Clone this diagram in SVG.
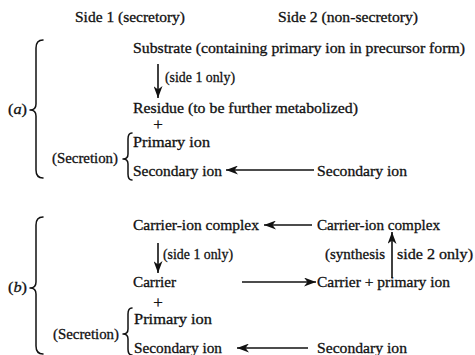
<svg xmlns="http://www.w3.org/2000/svg" width="475" height="355" viewBox="0 0 475 355">
<defs>
<style>
text{font-family:"Liberation Serif","Times New Roman",serif;font-size:15px;fill:#111;stroke:#111;stroke-width:0.3}
.plus{font-size:17px;text-anchor:middle}
.ln{stroke:#111;stroke-width:1.6;fill:none}
.br{stroke:#111;stroke-width:1.5;fill:none;stroke-linecap:round;stroke-linejoin:round}
</style>
<marker id="ah" markerUnits="userSpaceOnUse" markerWidth="13" markerHeight="9" refX="12" refY="4.5" orient="auto">
<path d="M0,0 L12,4.5 L0,9 L3.5,4.5 Z" fill="#111"/>
</marker>
</defs>
<rect width="475" height="355" fill="#fff"/>
<g id="headers">
<text x="75" y="22" textLength="110" lengthAdjust="spacingAndGlyphs">Side 1 (secretory)</text>
<text x="278" y="22" textLength="140" lengthAdjust="spacingAndGlyphs">Side 2 (non-secretory)</text>
</g>
<g id="a-label">
<text x="8" y="114" textLength="19" lengthAdjust="spacingAndGlyphs">(<tspan font-style="italic">a</tspan>)</text>
<path class="br" d="M43,40 Q36,40 36,48 L36,104 Q36,110 30,110 Q36,110 36,116 L36,170 Q36,178 43,178"/>
</g>
<g id="a-substrate"><text x="133" y="53" textLength="332" lengthAdjust="spacingAndGlyphs">Substrate (containing primary ion in precursor form)</text></g>
<g id="a-side1"><text x="165" y="82" textLength="70" lengthAdjust="spacingAndGlyphs">(side 1 only)</text></g>
<g id="a-residue"><text x="133" y="113" textLength="225" lengthAdjust="spacingAndGlyphs">Residue (to be further metabolized)</text></g>
<g id="a-plus"><text class="plus" x="158" y="130">+</text></g>
<g id="a-secretion">
<text x="52" y="163" textLength="66" lengthAdjust="spacingAndGlyphs">(Secretion)</text>
<path class="br" d="M132,133 Q128,133 128,139 L128,154 Q128,159 123,159 Q128,159 128,164 L128,174 Q128,180 132,180"/>
</g>
<g id="a-primary"><text x="133" y="147" textLength="77" lengthAdjust="spacingAndGlyphs">Primary ion</text></g>
<g id="a-secondary1"><text x="133" y="176" textLength="89" lengthAdjust="spacingAndGlyphs">Secondary ion</text></g>
<g id="a-secondary2"><text x="317" y="176" textLength="90" lengthAdjust="spacingAndGlyphs">Secondary ion</text></g>

<g id="b-label">
<text x="8" y="292" textLength="19" lengthAdjust="spacingAndGlyphs">(<tspan font-style="italic">b</tspan>)</text>
<path class="br" d="M43,217 Q36,217 36,225 L36,282 Q36,288 30,288 Q36,288 36,294 L36,346 Q36,354 43,354"/>
</g>
<g id="b-complex1"><text x="133" y="230" textLength="126" lengthAdjust="spacingAndGlyphs">Carrier-ion complex</text></g>
<g id="b-complex2"><text x="317" y="230" textLength="123" lengthAdjust="spacingAndGlyphs">Carrier-ion complex</text></g>
<g id="b-side1"><text x="163" y="259" textLength="70" lengthAdjust="spacingAndGlyphs">(side 1 only)</text></g>
<g id="b-synth">
<text x="325" y="259" textLength="60" lengthAdjust="spacingAndGlyphs">(synthesis</text>
<text x="397" y="259" textLength="76" lengthAdjust="spacingAndGlyphs">side 2 only)</text>
</g>
<g id="b-carrier"><text x="133" y="287" textLength="43" lengthAdjust="spacingAndGlyphs">Carrier</text></g>
<g id="b-carrierprimary"><text x="317" y="287" textLength="133" lengthAdjust="spacingAndGlyphs">Carrier + primary ion</text></g>
<g id="b-plus"><text class="plus" x="158" y="308">+</text></g>
<g id="b-secretion">
<text x="53" y="339" textLength="66" lengthAdjust="spacingAndGlyphs">(Secretion)</text>
<path class="br" d="M132,308 Q128,308 128,314 L128,329 Q128,334 123,334 Q128,334 128,339 L128,349 Q128,355 132,355"/>
</g>
<g id="b-primary"><text x="134" y="324" textLength="78" lengthAdjust="spacingAndGlyphs">Primary ion</text></g>
<g id="b-secondary1"><text x="134" y="353" textLength="88" lengthAdjust="spacingAndGlyphs">Secondary ion</text></g>
<g id="b-secondary2"><text x="317" y="353" textLength="90" lengthAdjust="spacingAndGlyphs">Secondary ion</text></g>

<g id="connectors">
<line class="ln" x1="158" y1="64" x2="158" y2="98" marker-end="url(#ah)"/>
<line class="ln" x1="314" y1="170" x2="226" y2="170" marker-end="url(#ah)"/>
<line class="ln" x1="312" y1="225" x2="264" y2="225" marker-end="url(#ah)"/>
<line class="ln" x1="158" y1="243" x2="158" y2="273" marker-end="url(#ah)"/>
<line class="ln" x1="392" y1="278" x2="392" y2="232" marker-end="url(#ah)"/>
<line class="ln" x1="242" y1="282" x2="316" y2="282" marker-end="url(#ah)"/>
<line class="ln" x1="308" y1="348" x2="237" y2="348" marker-end="url(#ah)"/>
</g>
</svg>
